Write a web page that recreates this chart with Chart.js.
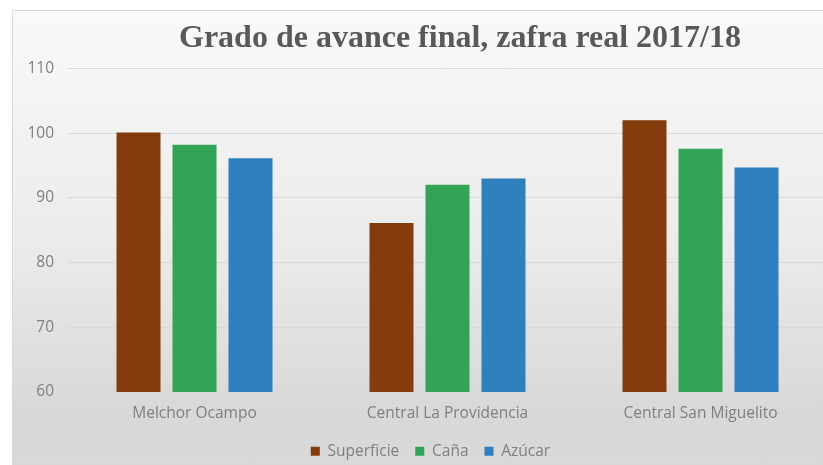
<!DOCTYPE html>
<html>
<head>
<meta charset="utf-8">
<script src="https://cdn.jsdelivr.net/npm/chart.js@4"></script>
<style>
    html, body { margin: 0; padding: 0; background: #fff; overflow: hidden; }
    #frame {
        position: absolute; left: 12px; top: 10px;
        width: 894px; height: 470px;
        border: 1px solid #d9d9d9;
        background: linear-gradient(#f9f9f9 0%, #ebebeb 50%, #d8d8d8 85%, #d9d9d9 100%);
    }
    canvas { display: block; }
</style>
</head>
<body>
<div id="frame"><canvas id="chart" width="894" height="464"></canvas></div>
<script>
document.addEventListener('DOMContentLoaded', () => {
    // --- DATA ---
    const CATEGORIES = ['Melchor Ocampo', 'Central La Providencia', 'Central San Miguelito'];
    const SUPERFICIE = [100.1, 86.1, 102.0];
    const CANA = [98.2, 92.0, 97.6];
    const AZUCAR = [96.1, 93.0, 94.7];
    const TITLE = 'Grado de avance final, zafra real 2017/18';

    const GRAY = '#7f7f7f';
    const labelFont = { family: "'Open Sans', sans-serif", size: 15.5 };

    // nudge the legend a bit left of the plot centre, as in the original
    const legendShift = {
        id: 'legendShift',
        afterLayout(chart) {
            const lg = chart.legend;
            if (lg) { lg.left -= 17; lg.right -= 17; }
        }
    };

    const ctx = document.getElementById('chart').getContext('2d');

    new Chart(ctx, {
        type: 'bar',
        data: {
            labels: CATEGORIES,
            datasets: [
                { label: 'Superficie', data: SUPERFICIE, backgroundColor: '#843c0c' },
                { label: 'Caña', data: CANA, backgroundColor: '#33a455' },
                { label: 'Azúcar', data: AZUCAR, backgroundColor: '#2f80bd' }
            ]
        },
        options: {
            responsive: false,
            animation: false,
            devicePixelRatio: 1,
            categoryPercentage: 0.664,
            barPercentage: 0.786,
            layout: { padding: { bottom: 6 } },
            scales: {
                y: {
                    min: 60,
                    max: 110,
                    ticks: { stepSize: 10, color: GRAY, font: labelFont, padding: 14 },
                    grid: { color: '#d9d9d9', drawTicks: false },
                    border: { display: false },
                    afterFit: (scale) => { scale.width = 55; }
                },
                // empty right-hand space: the plot is cut off on the right in the original
                yRight: {
                    position: 'right',
                    display: true,
                    ticks: { display: false },
                    grid: { display: false, drawTicks: false },
                    border: { display: false },
                    afterFit: (scale) => { scale.width = 80; }
                },
                x: {
                    ticks: { color: GRAY, font: labelFont, padding: 12 },
                    grid: { display: false, drawTicks: false },
                    border: { display: false },
                    afterFit: (scale) => { scale.height -= 7; }
                }
            },
            plugins: {
                title: {
                    display: true,
                    text: TITLE,
                    color: '#595959',
                    font: { family: "'Liberation Serif', serif", size: 32, weight: 'bold' },
                    padding: { top: 9, bottom: 10 }
                },
                legend: {
                    position: 'bottom',
                    fullSize: false,
                    labels: {
                        color: GRAY,
                        font: labelFont,
                        boxWidth: 9,
                        boxHeight: 9,
                        padding: 16
                    }
                },
                tooltip: { enabled: false }
            }
        },
        plugins: [legendShift]
    });
});
</script>
</body>
</html>
